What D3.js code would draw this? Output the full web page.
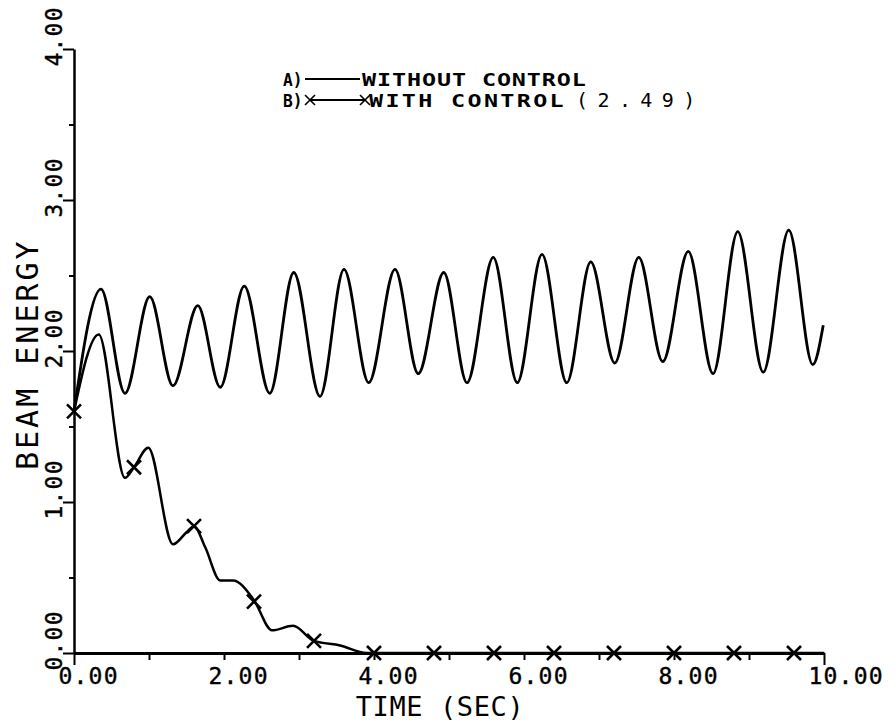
<!DOCTYPE html>
<html>
<head>
<meta charset="utf-8">
<script src="https://cdn.jsdelivr.net/npm/d3@7"></script>
<style>
  html, body { margin: 0; padding: 0; background: #fff; }
  svg { display: block; }
  text { font-family: "DejaVu Sans Mono", "Liberation Mono", monospace; fill: #000; }
</style>
</head>
<body>
<svg id="chart" width="895" height="725"></svg>
<script>
// Beam energy response, time in seconds
// A) without control: start point plus successive peaks and troughs
const freeTime   = [0, 0.36, 0.68, 1.01, 1.32, 1.65, 1.95, 2.27, 2.61, 2.93, 3.28, 3.60, 3.93, 4.28, 4.59, 4.93, 5.24, 5.59, 5.91, 6.24, 6.57, 6.89, 7.21, 7.53, 7.85, 8.19, 8.52, 8.85, 9.19, 9.53, 9.85, 9.99];
const freeEnergy = [1.60, 2.41, 1.72, 2.36, 1.77, 2.30, 1.76, 2.43, 1.72, 2.52, 1.70, 2.54, 1.79, 2.54, 1.85, 2.52, 1.79, 2.62, 1.79, 2.64, 1.79, 2.59, 1.92, 2.62, 1.93, 2.66, 1.85, 2.79, 1.86, 2.80, 1.91, 2.17];

// B) with control (gain 2.49)
const ctrlTime   = [0, 0.33, 0.68, 0.80, 0.99, 1.32, 1.50, 1.60, 1.75, 1.95, 2.12, 2.40, 2.64, 2.92, 3.20, 3.55, 3.90, 10.0];
const ctrlEnergy = [1.60, 2.11, 1.16, 1.23, 1.36, 0.72, 0.80, 0.84, 0.70, 0.48, 0.48, 0.35, 0.15, 0.18, 0.08, 0.05, 0.00, 0.00];

// symbol positions along curve B
const markTime   = [0, 0.8, 1.6, 2.4, 3.2, 4.0, 4.8, 5.6, 6.4, 7.2, 8.0, 8.8, 9.6];
const markEnergy = [1.60, 1.23, 0.84, 0.34, 0.08, 0, 0, 0, 0, 0, 0, 0, 0];

// axis ticks
const xTicks = [0, 1, 2, 3, 4, 5, 6, 7, 8, 9, 10];
const xLabelTicks = [0, 2, 4, 6, 8, 10];
const yTicks = [0, 0.5, 1, 1.5, 2, 2.5, 3, 3.5, 4];
const yLabelTicks = [0, 1, 2, 3, 4];

const xTitle = "TIME (SEC)";
const yTitle = "BEAM ENERGY";
const legendA = ["A)", "WITHOUT CONTROL"];
const legendB = ["B)", "WITH CONTROL", "(2.49)"];

const svg = d3.select("#chart");
const x = d3.scaleLinear().domain([0, 10]).range([74, 824]);
const y = d3.scaleLinear().domain([0, 4]).range([653, 49]);
const fmt = d3.format(".2f");

// x axis
const gx = svg.append("g")
  .attr("transform", `translate(0,${y(0)})`)
  .call(d3.axisBottom(x).tickValues(xTicks).tickSize(8).tickSizeOuter(0)
        .tickFormat(d => xLabelTicks.includes(d) ? fmt(d) : ""));
gx.select(".domain").attr("stroke", "#000").attr("stroke-width", 3);
gx.selectAll(".tick line").attr("stroke", "#000").attr("stroke-width", 2)
  .attr("y2", d => (d === 0 || d === 10) ? 12 : 7);
gx.selectAll(".tick text")
  .attr("text-anchor", "start").attr("x", -16).attr("y", 31).attr("dy", 0)
  .attr("font-size", 23).attr("letter-spacing", 1.2)
  .attr("font-family", "DejaVu Sans Mono").attr("fill", "#000")
  .attr("stroke", "#000").attr("stroke-width", 0.4);

// y axis
const gy = svg.append("g")
  .attr("transform", `translate(${x(0)},0)`)
  .call(d3.axisLeft(y).tickValues(yTicks).tickSize(11).tickSizeOuter(0)
        .tickFormat(d => yLabelTicks.includes(d) ? fmt(d) : ""));
gy.select(".domain").attr("stroke", "#000").attr("stroke-width", 2.5);
gy.selectAll(".tick line").attr("stroke", "#000").attr("stroke-width", 2)
  .attr("x2", d => yLabelTicks.includes(d) ? -11 : -5);
gy.selectAll(".tick text")
  .attr("text-anchor", "start").attr("x", 0).attr("dy", 0)
  .attr("transform", "translate(-12,17) rotate(-90)")
  .attr("font-size", 23).attr("letter-spacing", 1.2)
  .attr("font-family", "DejaVu Sans Mono").attr("fill", "#000")
  .attr("stroke", "#000").attr("stroke-width", 0.4);

// axis titles
svg.append("text")
  .attr("x", 440).attr("y", 716).attr("text-anchor", "middle")
  .attr("font-size", 27).attr("letter-spacing", 0.6)
  .text(xTitle);
svg.append("text")
  .attr("transform", "translate(38,470) rotate(-90)")
  .attr("text-anchor", "start")
  .attr("font-size", 30).attr("letter-spacing", 3)
  .text(yTitle);

// curves
const line = d3.line().curve(d3.curveMonotoneX).x(d => x(d[0])).y(d => y(d[1]));
svg.append("path")
  .datum(freeTime.map((t, i) => [t, freeEnergy[i]]))
  .attr("d", line).attr("fill", "none").attr("stroke", "#000")
  .attr("stroke-width", 2.8).attr("stroke-linejoin", "round");
svg.append("path")
  .datum(ctrlTime.map((t, i) => [t, ctrlEnergy[i]]))
  .attr("d", line).attr("fill", "none").attr("stroke", "#000")
  .attr("stroke-width", 2.5).attr("stroke-linejoin", "round");

// cross symbols on curve B
const cross = (s) => `M${-s},${-s}L${s},${s}M${-s},${s}L${s},${-s}`;
svg.append("g").selectAll("path")
  .data(markTime.map((t, i) => [t, markEnergy[i]]))
  .join("path")
  .attr("transform", d => `translate(${x(d[0])},${y(d[1])})`)
  .attr("d", cross(7)).attr("stroke", "#000").attr("stroke-width", 2.6)
  .attr("fill", "none");

// legend: wide plotter-style lettering (horizontally stretched mono bold)
const lg = svg.append("g");
function legendText(str, px, py, spacing, sx) {
  lg.append("g").attr("transform", `translate(${px},${py}) scale(${sx},1)`)
    .append("text")
    .attr("font-size", 18).attr("font-weight", "bold")
    .attr("letter-spacing", spacing)
    .text(str);
}
legendText(legendA[0], 283, 86, 0, 0.9);
lg.append("line").attr("x1", 305).attr("x2", 360).attr("y1", 79).attr("y2", 79)
  .attr("stroke", "#000").attr("stroke-width", 2.2);
legendText(legendA[1], 362, 86, 0.7, 1.3);

legendText(legendB[0], 283, 107, 0, 0.9);
lg.append("line").attr("x1", 310).attr("x2", 365).attr("y1", 100).attr("y2", 100)
  .attr("stroke", "#000").attr("stroke-width", 2.2);
[310, 365].forEach(px => {
  lg.append("path").attr("transform", `translate(${px},100)`)
    .attr("d", cross(5)).attr("stroke", "#000").attr("stroke-width", 1.6);
});
legendText(legendB[1], 369, 107, 1.8, 1.3);
lg.append("text").attr("x", 576).attr("y", 107)
  .attr("font-size", 20).attr("letter-spacing", 9.4)
  .text(legendB[2]);
</script>
</body>
</html>
